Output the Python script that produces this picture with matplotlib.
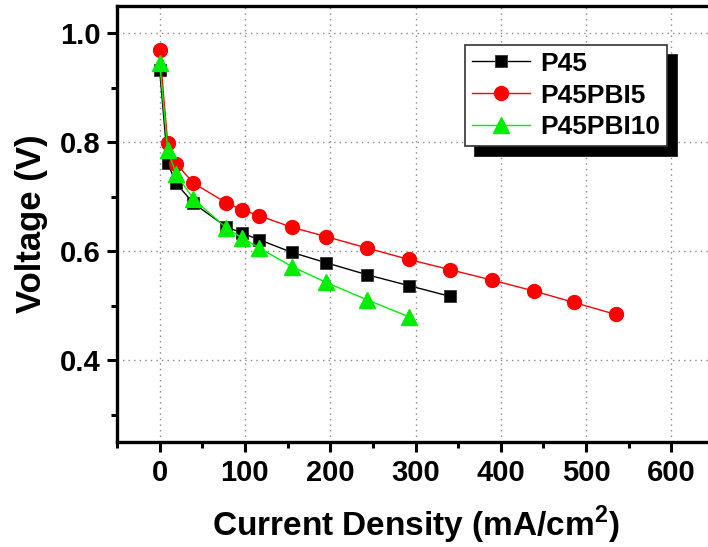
import matplotlib
matplotlib.use("Agg")
import matplotlib.pyplot as plt
from matplotlib.ticker import MultipleLocator

plt.rcParams['font.family'] = ['Liberation Sans', 'DejaVu Sans']
plt.rcParams['font.weight'] = 'bold'
plt.rcParams['mathtext.fontset'] = 'custom'
plt.rcParams['mathtext.rm'] = 'Liberation Sans:bold'
plt.rcParams['mathtext.bf'] = 'Liberation Sans:bold'

# Polarization data: current density (mA/cm2) vs cell voltage (V)
i_p45 = [0, 9.4, 19.2, 39.6, 78, 97, 117, 155, 195, 243, 292, 341]
v_p45 = [0.933, 0.762, 0.725, 0.688, 0.645, 0.633, 0.621, 0.598, 0.579, 0.557, 0.537, 0.517]

i_pbi5 = [0, 9.4, 19.2, 39.6, 78, 97, 117, 155, 195, 243, 292, 341, 390, 439, 486, 535]
v_pbi5 = [0.970, 0.799, 0.761, 0.725, 0.689, 0.676, 0.665, 0.644, 0.627, 0.606,
          0.585, 0.566, 0.547, 0.527, 0.506, 0.484]

i_pbi10 = [0, 9.4, 19.2, 39.6, 78, 97, 117, 155, 195, 243, 292]
v_pbi10 = [0.946, 0.786, 0.742, 0.696, 0.643, 0.624, 0.606, 0.572, 0.543, 0.511, 0.480]

labels = ['P45', 'P45PBI5', 'P45PBI10']

fig = plt.figure(figsize=(7.08, 5.47), dpi=100)
ax = fig.add_axes([117 / 708, 1 - 442 / 547, (714 - 117) / 708, (442 - 6) / 547])

ax.plot(i_p45, v_p45, color='black', lw=1.0, marker='s', ms=8,
        mec='#333333', mew=0.6, label=labels[0], zorder=3)
ax.plot(i_pbi5, v_pbi5, color='red', lw=1.0, marker='o', ms=10,
        mec='red', label=labels[1], zorder=3)
ax.plot(i_pbi10, v_pbi10, color='#00ee00', lw=1.0, marker='^', ms=11,
        mec='#00ee00', label=labels[2], zorder=3)

ax.set_xlim(-50, 650)
ax.set_ylim(0.25, 1.05)
ax.xaxis.set_major_locator(MultipleLocator(100))
ax.xaxis.set_minor_locator(MultipleLocator(50))
ax.yaxis.set_major_locator(MultipleLocator(0.2))
ax.yaxis.set_minor_locator(MultipleLocator(0.1))

ax.grid(True, which='major', color='#888888', linestyle=(0, (1, 3)), lw=1.0)
for s in ax.spines.values():
    s.set_linewidth(2.4)

ax.tick_params(which='major', direction='out', length=7, width=2.2,
               labelsize=21, pad=5, top=False, right=False)
ax.tick_params(which='minor', direction='out', length=4.5, width=2.2,
               top=False, right=False)
for lab in ax.get_xticklabels() + ax.get_yticklabels():
    lab.set_fontweight('bold')

ax.set_xlabel(r'Current Density (mA/cm$^{2}$)', fontsize=24, fontweight='bold', labelpad=12)
ax.set_ylabel('Voltage (V)', fontsize=25, fontweight='bold', labelpad=8)

leg = ax.legend(loc='upper left', bbox_to_anchor=((465 - 117) / 597, 1 - (45 - 6) / 436),
                numpoints=1, fontsize=19, frameon=True, fancybox=False,
                shadow={'color': 'black', 'alpha': 1.0, 'ox': 7, 'oy': -7},
                handlelength=2.2, handletextpad=0.4, borderpad=0.25,
                labelspacing=0.3, borderaxespad=0)
leg.get_frame().set_edgecolor('#333333')
leg.get_frame().set_linewidth(1.2)
for t in leg.get_texts():
    t.set_fontweight('bold')

fig.savefig('out.png', dpi=100)
